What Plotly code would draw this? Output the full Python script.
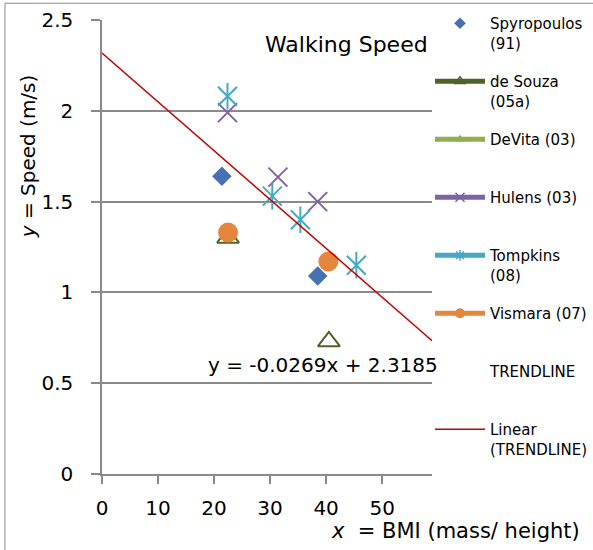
import plotly.graph_objects as go

# ---- data -------------------------------------------------------------
spyropoulos_x = [21.4, 38.5]
spyropoulos_y = [1.64, 1.09]

desouza_x = [22.5, 40.5]
desouza_y = [1.30, 0.73]

devita_x = []
devita_y = []

hulens_x = [22.4, 31.4, 38.5]
hulens_y = [1.99, 1.635, 1.50]

tompkins_x = [22.4, 30.4, 35.4, 45.4]
tompkins_y = [2.08, 1.53, 1.40, 1.15]

vismara_x = [22.5, 40.4]
vismara_y = [1.33, 1.17]

TREND_SLOPE = -0.0269
TREND_INTERCEPT = 2.3185

X_MAX = 58.9
x_ticks = [0, 10, 20, 30, 40, 50]
y_ticks = [0, 0.5, 1, 1.5, 2, 2.5]
y_tick_text = ["0", "0.5", "1", "1.5", "2", "2.5"]

# ---- styling ----------------------------------------------------------
FONT = "DejaVu Sans"
INK = "#000000"
GRID = "#8a8a8a"
BLUE = "#4672b4"
OLIVE = "#4f6228"
LIGHT_GREEN = "#8db04d"
PURPLE = "#7f63a1"
TEAL = "#46a8c2"
ORANGE = "#e4873c"
RED = "#c80000"

fig = go.Figure()

# scatter series (markers only)
fig.add_trace(go.Scatter(x=spyropoulos_x, y=spyropoulos_y, mode="markers",
                         marker=dict(symbol="diamond", size=15, color=BLUE),
                         legendgroup="spy", showlegend=False))
fig.add_trace(go.Scatter(x=desouza_x, y=desouza_y, mode="markers",
                         marker=dict(symbol="triangle-up-open", size=19,
                                     color=OLIVE, line=dict(width=2, color=OLIVE)),
                         legendgroup="desouza", showlegend=False))
fig.add_trace(go.Scatter(x=devita_x, y=devita_y, mode="markers",
                         marker=dict(symbol="triangle-up", size=16, color=LIGHT_GREEN),
                         legendgroup="devita", showlegend=False))
fig.add_trace(go.Scatter(x=hulens_x, y=hulens_y, mode="markers",
                         marker=dict(symbol="x-thin-open", size=19, color=PURPLE,
                                     line=dict(width=2, color=PURPLE)),
                         legendgroup="hulens", showlegend=False))
for sym in ("x-thin-open", "line-ns-open"):
    fig.add_trace(go.Scatter(x=tompkins_x, y=tompkins_y, mode="markers",
                             marker=dict(symbol=sym, size=19, color=TEAL,
                                         line=dict(width=2, color=TEAL)),
                             legendgroup="tompkins", showlegend=False))
fig.add_trace(go.Scatter(x=vismara_x, y=vismara_y, mode="markers",
                         marker=dict(symbol="circle", size=20, color=ORANGE),
                         legendgroup="vismara", showlegend=False))

# legend entries
def legend_entry(name, group, mode, color=None, symbol="circle", msize=9,
                 open_marker=False):
    marker = dict(symbol=symbol, size=msize, color=color)
    if open_marker:
        marker["line"] = dict(width=1.5, color=color)
    fig.add_trace(go.Scatter(x=[None], y=[None], mode=mode, name=name,
                             legendgroup=group,
                             line=dict(color=color, width=5) if color else None,
                             marker=marker))

legend_entry("Spyropoulos<br>(91)", "spy", "markers", BLUE, "diamond", 9)
legend_entry("de Souza<br>(05a)", "desouza", "lines+markers", OLIVE,
             "triangle-up-open", 9, open_marker=True)
legend_entry("DeVita (03)<br>\u00a0", "devita", "lines+markers", LIGHT_GREEN,
             "triangle-up", 9)
legend_entry("Hulens (03)<br>\u00a0", "hulens", "lines+markers", PURPLE,
             "x-thin-open", 9, open_marker=True)
legend_entry("Tompkins<br>(08)", "tompkins", "lines+markers", TEAL,
             "asterisk-open", 9, open_marker=True)
legend_entry("Vismara (07)<br>\u00a0", "vismara", "lines+markers", ORANGE,
             "circle", 10)
fig.add_trace(go.Scatter(x=[None], y=[None], mode="none",
                         name="TRENDLINE<br>\u00a0", legendgroup="trendpts"))

# linear trend line across the axis range
trend_x = [0, X_MAX]
trend_y = [TREND_SLOPE * v + TREND_INTERCEPT for v in trend_x]
fig.add_trace(go.Scatter(x=trend_x, y=trend_y, mode="lines",
                         line=dict(color=RED, width=1.5),
                         name="Linear<br>(TRENDLINE)", legendgroup="trend"))

# ---- annotations --------------------------------------------------------
equation = f"y = {TREND_SLOPE}x + {TREND_INTERCEPT}"
fig.add_annotation(text="Walking Speed", xref="paper", yref="paper",
                   x=0.995, y=0.945, xanchor="right", yanchor="middle",
                   showarrow=False, font=dict(family=FONT, size=22, color=INK))
fig.add_annotation(text=equation, xref="paper", yref="paper",
                   x=1.025, y=0.24, xanchor="right", yanchor="middle",
                   showarrow=False, font=dict(family=FONT, size=20, color=INK))
fig.add_annotation(text="<i>x</i>\u00a0 = BMI (mass/ height)", xref="paper",
                   yref="paper", x=1.455, y=-0.125, xanchor="right",
                   yanchor="middle", showarrow=False,
                   font=dict(family=FONT, size=21, color=INK))
fig.add_annotation(text="<i>y</i> = Speed (m/s)", xref="paper", yref="paper",
                   x=-0.224, y=0.70, xanchor="center", yanchor="middle",
                   textangle=-90, showarrow=False,
                   font=dict(family=FONT, size=20, color=INK))

# chart-area border
fig.add_shape(type="rect", xref="paper", yref="paper",
              x0=-0.294, x1=1.6, y0=-0.3, y1=1.037,
              line=dict(color=GRID, width=1), fillcolor="rgba(0,0,0,0)",
              layer="below")

fig.update_layout(
    width=593, height=550,
    margin=dict(l=102, r=161, t=20, b=76, autoexpand=False),
    paper_bgcolor="white", plot_bgcolor="white",
    font=dict(family=FONT, color=INK),
    legend=dict(x=(430 - 102) / 330, xanchor="left",
                yref="container", y=1 - 7 / 550, yanchor="top",
                font=dict(family=FONT, size=15, color=INK),
                tracegroupgap=16, valign="top", itemwidth=50,
                maxheight=545,
                bgcolor="rgba(0,0,0,0)"),
    xaxis=dict(range=[0, X_MAX], tickvals=x_ticks, showgrid=False,
               zeroline=False, showline=True, linecolor=GRID, linewidth=1.5,
               ticks="outside", ticklen=8, tickwidth=1.5, tickcolor=GRID,
               tickfont=dict(family=FONT, size=20, color=INK),
               ticklabelstandoff=7),
    yaxis=dict(range=[0, 2.5001], tickvals=y_ticks, ticktext=y_tick_text,
               showgrid=True, gridcolor=GRID, gridwidth=1.5, zeroline=False,
               showline=True, linecolor=GRID, linewidth=1.5,
               ticks="outside", ticklen=9, tickwidth=1.5, tickcolor=GRID,
               tickfont=dict(family=FONT, size=20, color=INK),
               ticklabelstandoff=14),
)

fig.write_html("out.html")
